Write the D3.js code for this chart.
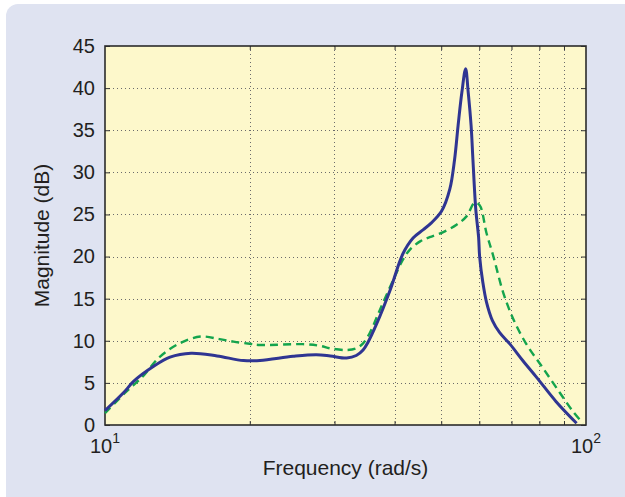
<!DOCTYPE html>
<html>
<head>
<meta charset="utf-8">
<script src="https://cdn.jsdelivr.net/npm/d3@7"></script>
<style>
  html, body { margin: 0; padding: 0; background: #ffffff; }
  svg { display: block; }
  text { font-family: "Liberation Sans", Arial, Helvetica, sans-serif; fill: #231f20; }
</style>
</head>
<body>
<svg id="chart" width="625" height="497"></svg>
<script>
// ---- Data ----
const blueFreq = [10, 11, 11.45, 12.6, 13.65, 15.1, 17.1, 19.4, 21, 24.6, 27.5, 29.4, 31.8, 33.3, 34.4, 35.2, 36.7, 39.2, 41.6, 43.7, 45.9, 47.7, 50.1, 52.1, 53.3, 54.2, 55.2, 56.2, 56.9, 57.7, 58.2, 59.0, 59.8, 60.1, 61.0, 62.1, 63.9, 66.1, 69.5, 74.0, 79.1, 86.6, 95.6];
const blueMag  = [1.7, 4.0, 5.15, 6.94, 8.06, 8.53, 8.2, 7.65, 7.65, 8.15, 8.35, 8.2, 7.95, 8.25, 8.9, 9.8, 12.0, 16.1, 20.3, 22.2, 23.2, 24.0, 25.4, 28.0, 31.5, 35.5, 39.5, 42.3, 39.5, 35.5, 31.5, 25.6, 22.3, 20.0, 17.0, 14.6, 12.4, 11.0, 9.6, 7.6, 5.6, 2.8, 0.2];

const greenFreq = [10, 11, 12.0, 13.0, 14.3, 15.8, 17.3, 18.5, 20, 21, 25.8, 28, 29.4, 31.8, 33.3, 34.4, 35.5, 37.3, 39.8, 41.6, 43.0, 45.2, 47.3, 50.5, 53.9, 56.5, 58.7, 60.1, 62.1, 64.2, 67.3, 70.7, 75.0, 81.4, 88.3, 94.0, 98.6];
const greenMag  = [1.4, 3.8, 5.8, 8.1, 9.7, 10.5, 10.2, 9.9, 9.64, 9.5, 9.6, 9.4, 9.1, 8.9, 9.1, 9.7, 10.9, 13.7, 17.3, 19.6, 20.8, 21.8, 22.3, 22.9, 23.8, 24.8, 26.4, 26.1, 22.8, 20.0, 15.7, 12.5, 9.7, 6.75, 3.8, 1.6, 0.2];

const yTicks = [0, 5, 10, 15, 20, 25, 30, 35, 40, 45];
const xMinorTicks = [20, 30, 40, 50, 60, 70, 80, 90];
const xMajorTicks = [10, 100];
const xLabel = "Frequency (rad/s)";
const yLabel = "Magnitude (dB)";

// ---- Layout ----
const svg = d3.select("#chart");
const L = 105, R = 586, T = 46, B = 425;

const x = d3.scaleLog().domain([10, 100]).range([L, R]);
const y = d3.scaleLinear().domain([0, 45]).range([B, T]);

// outer panel
svg.append("rect")
  .attr("x", 6).attr("y", 4).attr("width", 640).attr("height", 510)
  .attr("rx", 12).attr("ry", 12)
  .attr("fill", "#dfe3f1");

// plot background
svg.append("rect")
  .attr("x", L).attr("y", T).attr("width", R - L).attr("height", B - T)
  .attr("fill", "#fdf8cb");

// grid
const grid = svg.append("g").attr("stroke", "#6b6b6b").attr("stroke-width", 1).attr("stroke-dasharray", "1,3").attr("fill", "none");
grid.selectAll("line.v").data(xMinorTicks).join("line")
  .attr("x1", d => Math.round(x(d)) + 0.5).attr("x2", d => Math.round(x(d)) + 0.5)
  .attr("y1", T).attr("y2", B);
grid.selectAll("line.h").data(yTicks.filter(d => d > 0 && d < 45)).join("line")
  .attr("x1", L).attr("x2", R)
  .attr("y1", d => Math.round(y(d)) + 0.5).attr("y2", d => Math.round(y(d)) + 0.5);

// axes via d3
const tickLen = 5;
const gLeft = svg.append("g").attr("transform", `translate(${L},0)`)
  .call(d3.axisLeft(y).tickValues(yTicks).tickSize(-tickLen).tickPadding(10).tickFormat(d3.format("d")));
const gRight = svg.append("g").attr("transform", `translate(${R},0)`)
  .call(d3.axisRight(y).tickValues(yTicks).tickSize(-tickLen).tickFormat(""));
const gBottom = svg.append("g").attr("transform", `translate(0,${B})`)
  .call(d3.axisBottom(x).tickValues(xMinorTicks).tickSize(-4).tickFormat(""));
const gTop = svg.append("g").attr("transform", `translate(0,${T})`)
  .call(d3.axisTop(x).tickValues(xMinorTicks).tickSize(-4).tickFormat(""));

[gLeft, gRight, gBottom, gTop].forEach(g => {
  g.select(".domain").remove();
  g.selectAll(".tick line").attr("stroke", "#333").attr("stroke-width", 1);
});
gLeft.selectAll(".tick text")
  .attr("font-size", 20)
  .attr("fill", "#231f20")
  .style("font-family", '"Liberation Sans", Arial, sans-serif');

// x major labels with superscripts
const xl = svg.append("g");
xMajorTicks.forEach(v => {
  const exp = Math.round(Math.log10(v));
  const t = xl.append("text")
    .attr("x", x(v)).attr("y", 453)
    .attr("text-anchor", "middle")
    .attr("font-size", 20);
  t.append("tspan").text("10");
  t.append("tspan").attr("font-size", 14).attr("dy", -10).text(exp);
});

// frame
svg.append("rect")
  .attr("x", L).attr("y", T).attr("width", R - L).attr("height", B - T)
  .attr("fill", "none").attr("stroke", "#2b2b2b").attr("stroke-width", 1.6);

// lines
const line = d3.line().x(d => x(d[0])).y(d => y(d[1])).curve(d3.curveCatmullRom.alpha(0.5));

svg.append("path")
  .datum(greenFreq.map((f, i) => [f, greenMag[i]]))
  .attr("d", line)
  .attr("fill", "none")
  .attr("stroke", "#14a44d")
  .attr("stroke-width", 2.4)
  .attr("stroke-dasharray", "8,5");

svg.append("path")
  .datum(blueFreq.map((f, i) => [f, blueMag[i]]))
  .attr("d", line)
  .attr("fill", "none")
  .attr("stroke", "#2f3592")
  .attr("stroke-width", 3)
  .attr("stroke-linejoin", "round");

// axis titles
svg.append("text")
  .attr("x", (L + R) / 2).attr("y", 475)
  .attr("text-anchor", "middle")
  .attr("font-size", 21)
  .text(xLabel);

svg.append("text")
  .attr("transform", `translate(49,${(T + B) / 2}) rotate(-90)`)
  .attr("text-anchor", "middle")
  .attr("font-size", 21)
  .text(yLabel);
</script>
</body>
</html>
